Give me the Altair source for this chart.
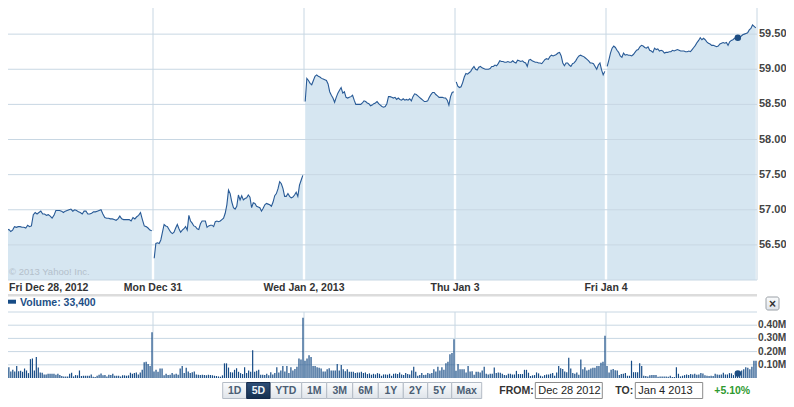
import altair as alt
import pandas as pd

# ---------------- data ----------------
day_labels = ["Fri Dec 28, 2012", "Mon Dec 31", "Wed Jan 2, 2013", "Thu Jan 3", "Fri Jan 4"]

price_dec28 = [56.72, 56.67, 56.71, 56.72, 56.69, 56.71, 56.76, 56.75, 56.76, 56.76, 56.75, 56.75, 56.74, 56.78,
               56.76, 56.77, 56.93, 56.96, 56.94, 56.96, 56.98, 56.94, 56.94, 56.92, 56.93, 56.91, 56.88, 56.92,
               56.99, 56.99, 56.99, 56.98, 56.96, 56.98, 56.99, 57.00, 57.01, 56.98, 57.00, 56.99, 56.97, 56.96,
               56.94, 56.98, 56.98, 56.94, 56.94, 56.95, 56.97, 56.97, 56.98, 56.99, 57.00, 56.94, 56.89, 56.88,
               56.88, 56.87, 56.87, 56.86, 56.85, 56.87, 56.91, 56.87, 56.86, 56.86, 56.86, 56.86, 56.84, 56.89,
               56.87, 56.90, 56.92, 56.96, 56.86, 56.77, 56.76, 56.74, 56.71, 56.70]
price_dec31 = [56.31, 56.52, 56.53, 56.52, 56.57, 56.68, 56.79, 56.77, 56.76, 56.72, 56.68, 56.66, 56.68, 56.74,
               56.79, 56.73, 56.68, 56.71, 56.73, 56.76, 56.71, 56.92, 56.84, 56.81, 56.77, 56.76, 56.73, 56.72,
               56.80, 56.84, 56.84, 56.84, 56.75, 56.77, 56.78, 56.78, 56.76, 56.83, 56.84, 56.83, 56.84, 56.86,
               56.88, 56.95, 57.07, 57.28, 57.23, 57.11, 57.03, 57.01, 57.05, 57.21, 57.14, 57.20, 57.14, 57.16,
               57.17, 57.21, 57.18, 57.03, 57.10, 57.09, 57.05, 57.04, 57.03, 56.98, 57.02, 57.07, 57.09, 57.08,
               57.07, 57.05, 57.11, 57.20, 57.23, 57.30, 57.40, 57.37, 57.30, 57.19, 57.19, 57.23, 57.19, 57.17,
               57.18, 57.21, 57.25, 57.19, 57.35, 57.42, 57.49]
price_jan2 = [58.54, 58.87, 58.84, 58.80, 58.78, 58.84, 58.90, 58.92, 58.90, 58.89, 58.87, 58.86, 58.85, 58.84,
              58.79, 58.68, 58.63, 58.59, 58.53, 58.60, 58.66, 58.70, 58.74, 58.66, 58.68, 58.60, 58.59, 58.60,
              58.61, 58.63, 58.56, 58.50, 58.50, 58.50, 58.50, 58.52, 58.55, 58.54, 58.52, 58.51, 58.48, 58.49,
              58.51, 58.52, 58.54, 58.51, 58.49, 58.47, 58.46, 58.47, 58.51, 58.61, 58.61, 58.60, 58.59, 58.60,
              58.57, 58.59, 58.57, 58.56, 58.58, 58.56, 58.57, 58.56, 58.58, 58.55, 58.61, 58.65, 58.64, 58.62,
              58.60, 58.58, 58.56, 58.54, 58.54, 58.55, 58.60, 58.64, 58.67, 58.67, 58.64, 58.62, 58.60, 58.60,
              58.60, 58.59, 58.59, 58.56, 58.49, 58.61, 58.67, 58.68]
price_jan3 = [58.82, 58.76, 58.74, 58.75, 58.81, 58.89, 58.94, 58.93, 58.95, 58.97, 59.01, 59.04, 59.00, 58.99,
              59.03, 59.04, 59.02, 59.01, 59.00, 59.00, 59.00, 59.01, 59.04, 59.04, 59.06, 59.05, 59.08, 59.12,
              59.11, 59.11, 59.10, 59.10, 59.11, 59.10, 59.10, 59.12, 59.10, 59.09, 59.13, 59.12, 59.11, 59.12,
              59.10, 59.09, 59.04, 59.13, 59.14, 59.12, 59.11, 59.10, 59.10, 59.09, 59.09, 59.08, 59.11, 59.14,
              59.15, 59.14, 59.18, 59.20, 59.19, 59.20, 59.21, 59.23, 59.24, 59.19, 59.09, 59.05, 59.09, 59.09,
              59.06, 59.04, 59.08, 59.09, 59.12, 59.16, 59.19, 59.20, 59.19, 59.18, 59.16, 59.14, 59.12, 59.09,
              59.09, 59.08, 59.04, 59.00, 59.06, 59.09, 58.99, 58.92, 58.97]
price_jan4 = [59.04, 59.13, 59.23, 59.30, 59.33, 59.31, 59.27, 59.24, 59.19, 59.17, 59.23, 59.20, 59.21, 59.20,
              59.20, 59.19, 59.21, 59.24, 59.27, 59.28, 59.32, 59.34, 59.33, 59.31, 59.30, 59.32, 59.27, 59.26,
              59.24, 59.30, 59.28, 59.29, 59.26, 59.27, 59.26, 59.23, 59.24, 59.24, 59.25, 59.25, 59.27, 59.26,
              59.27, 59.28, 59.27, 59.26, 59.26, 59.26, 59.25, 59.25, 59.26, 59.25, 59.28, 59.31, 59.34, 59.38,
              59.41, 59.45, 59.42, 59.44, 59.42, 59.39, 59.37, 59.36, 59.34, 59.34, 59.33, 59.32, 59.33, 59.36,
              59.37, 59.38, 59.37, 59.38, 59.34, 59.39, 59.41, 59.42, 59.44, 59.45, 59.45, 59.46, 59.47, 59.49,
              59.50, 59.51, 59.52, 59.56, 59.58, 59.63, 59.61, 59.59]

# volume per 5-minute bar, thousands of shares
vol_dec28 = [91, 42, 74, 81, 49, 62, 49, 91, 52, 54, 47, 72, 57, 37, 143, 148, 57, 160, 79, 42, 40, 27, 27, 32, 32,
             32, 32, 25, 32, 22, 15, 12, 12, 12, 32, 40, 12, 22, 20, 57, 15, 17, 17, 17, 17, 27, 10, 7, 17, 25, 35,
             20, 22, 12, 25, 22, 32, 17, 17, 17, 12, 20, 20, 17, 20, 40, 32, 37, 42, 27, 42, 62, 119, 123, 106, 91, 346]
vol_dec31 = [49, 62, 47, 72, 72, 20, 32, 22, 25, 37, 27, 32, 25, 72, 91, 37, 77, 49, 37, 44, 49, 27, 25, 22, 25, 22,
             20, 25, 22, 20, 17, 15, 12, 10, 20, 111, 111, 79, 44, 42, 62, 74, 47, 37, 30, 81, 37, 57, 47, 210, 47,
             54, 62, 25, 25, 22, 32, 20, 44, 27, 37, 81, 42, 57, 91, 49, 91, 37, 81, 57, 69, 86, 148, 141, 457]
vol_jan2 = [131, 148, 173, 160, 91, 91, 81, 77, 72, 49, 49, 67, 74, 57, 57, 57, 106, 57, 99, 67, 52, 67, 47, 47, 47,
            37, 42, 42, 47, 37, 42, 30, 35, 25, 32, 27, 37, 32, 17, 27, 27, 25, 32, 17, 32, 35, 30, 42, 27, 22, 37,
            30, 27, 57, 86, 47, 17, 22, 37, 22, 25, 37, 32, 37, 67, 49, 86, 57, 81, 62, 111, 123, 180, 190, 294]
vol_jan3 = [54, 106, 67, 67, 67, 42, 91, 49, 52, 25, 47, 47, 42, 57, 86, 32, 27, 32, 32, 79, 37, 42, 40, 32, 22, 20,
            32, 32, 27, 27, 54, 30, 30, 30, 62, 62, 40, 15, 20, 22, 42, 35, 17, 12, 22, 27, 27, 32, 37, 17, 42, 91,
            74, 69, 49, 44, 153, 72, 37, 32, 42, 25, 141, 67, 81, 57, 62, 72, 77, 77, 91, 91, 116, 123, 321]
vol_jan4 = [91, 42, 62, 69, 59, 57, 22, 30, 32, 37, 17, 17, 131, 44, 44, 44, 111, 91, 17, 15, 12, 20, 22, 22, 22, 10,
            12, 12, 12, 12, 10, 17, 7, 7, 81, 32, 12, 17, 22, 27, 22, 30, 27, 32, 25, 27, 37, 35, 20, 17, 15, 17, 15,
            32, 27, 25, 27, 40, 27, 27, 37, 35, 22, 47, 42, 49, 57, 67, 81, 77, 67, 86, 131, 131]

price_ticks = [56.5, 57.0, 57.5, 58.0, 58.5, 59.0, 59.5]
price_base = 56.0
price_top = 60.0
vol_ticks = [100000, 200000, 300000, 400000]
vol_tick_labels = ["0.10M", "0.20M", "0.30M", "0.40M"]
vol_top = 500000

hover_day = 4
hover_index = 80
hover_volume = 33400
legend_text = "Volume: 33,400"
copyright_text = "\u00a9 2013 Yahoo! Inc."
range_buttons = ["1D", "5D", "YTD", "1M", "3M", "6M", "1Y", "2Y", "5Y", "Max"]
selected_button = "5D"
from_date = "Dec 28 2012"
to_date = "Jan 4 2013"
change_text = "+5.10%"

# ---------------- styling / layout (pixels) ----------------
FONT = "Liberation Sans"
GRID = "#c8d7e3"
AREA = "#d6e6f1"
LINE = "#285a96"
VOLC = "#174c86"
LABEL = "#444444"
W, H = 778, 391

X_SCALE = alt.Scale(domain=[0, 5], range=[-6, 749], nice=False, zero=False)
P_SCALE = alt.Scale(domain=[price_base, price_top], range=[272, -9], nice=False, zero=False)
V_SCALE = alt.Scale(domain=[0, vol_top], range=[370, 304], nice=False, zero=False)

DAY_LABEL_Y = 279.5
SEP_Y = (286, 288.5)
LEGEND_Y = 295
CLOSE_Y = (289, 302)
button_edges = [214.7, 238.7, 262, 293.7, 318.7, 344.7, 370.3, 395.3, 419.7, 443.7, 473.7]
BTN_Y = (374.5, 390.5)
BTN_TEXT_Y = 382.5

# ---------------- frames ----------------
days = [price_dec28, price_dec31, price_jan2, price_jan3, price_jan4]
vols = [vol_dec28, vol_dec31, vol_jan2, vol_jan3, vol_jan4]

rows = []
for d, series in enumerate(days):
    n = len(series)
    for i, p in enumerate(series):
        rows.append({"t": d + 0.008 + 0.984 * i / (n - 1), "price": p, "day": d, "base": price_base})
price_df = pd.DataFrame(rows)

vrows = []
for d, series in enumerate(vols):
    n = len(series)
    for i, v in enumerate(series):
        vrows.append({"t": d + (i + 0.5) / n, "volume": v * 1000, "zero": 0})
vol_df = pd.DataFrame(vrows)

hs = days[hover_day]
hover_t = hover_day + 0.008 + 0.984 * hover_index / (len(hs) - 1)
hover_df = pd.DataFrame([{"t": hover_t, "price": hs[hover_index], "volume": hover_volume}])

vg = [{"t": d, "lo": max(days[d - 1][-1], days[d][0]), "hi": price_top} for d in range(1, 5)]
vg.append({"t": 5, "lo": price_base, "hi": price_top})
vgrid_df = pd.DataFrame(vg)

hgrid_df = pd.DataFrame({"price": [price_base] + price_ticks, "t0": 0, "t1": 5})
plabel_df = pd.DataFrame({"price": price_ticks, "label": [f"{p:.2f}" for p in price_ticks], "edge": 5})
day_df = pd.DataFrame({"t": list(range(5)), "label": day_labels})

vvgrid_df = pd.DataFrame({"t": [1, 2, 3, 4], "lo": 0, "hi": vol_top})
vhgrid_df = pd.DataFrame({"volume": vol_ticks + [vol_top], "t0": 0, "t1": 5})
vlabel_df = pd.DataFrame({"volume": vol_ticks, "label": vol_tick_labels, "edge": 5})

btn_df = pd.DataFrame({"label": range_buttons, "x0": button_edges[:-1], "x1": button_edges[1:]})
btn_df["xc"] = (btn_df["x0"] + btn_df["x1"]) / 2
btn_df["sel"] = btn_df["label"] == selected_button


def X(f="t"):
    return alt.X(f, type="quantitative", scale=X_SCALE, axis=None)


def PY(f="price"):
    return alt.Y(f, type="quantitative", scale=P_SCALE, axis=None)


def VY(f="volume"):
    return alt.Y(f, type="quantitative", scale=V_SCALE, axis=None)


def PX(f):
    return alt.X(f, type="quantitative", scale=None, axis=None)


grad = alt.LinearGradient(gradient="linear", x1=0, x2=0, y1=0, y2=1,
                          stops=[alt.GradientStop(color="#fbfcfd", offset=0),
                                 alt.GradientStop(color="#dfe4ea", offset=1)])
sel_grad = alt.LinearGradient(gradient="linear", x1=0, x2=0, y1=0, y2=1,
                              stops=[alt.GradientStop(color="#2e4e78", offset=0),
                                     alt.GradientStop(color="#15304f", offset=1)])

layers = []

# price panel
layers.append(alt.Chart(vgrid_df).mark_rule(color=GRID, strokeWidth=1).encode(
    x=X(), y=PY("lo"), y2="hi"))
layers.append(alt.Chart(price_df).mark_area(color=AREA, opacity=1).encode(
    x=X(), y=PY(), y2="base", detail="day:N"))
layers.append(alt.Chart(hgrid_df).mark_rule(color=GRID, strokeWidth=1).encode(
    x=X("t0"), x2="t1", y=PY()))
layers.append(alt.Chart(price_df).mark_line(color=LINE, strokeWidth=1.1).encode(
    x=X(), y=PY(), detail="day:N"))
layers.append(alt.Chart(hover_df).mark_circle(color="#1d4d83", size=42, opacity=1).encode(
    x=X(), y=PY()))
layers.append(alt.Chart(plabel_df).mark_text(align="left", baseline="middle", dx=2, font=FONT,
                                             fontSize=11, fontWeight="bold", color=LABEL).encode(
    x=X("edge"), y=PY(), text="label"))
layers.append(alt.Chart(pd.DataFrame({"label": [copyright_text]})).mark_text(
    align="left", baseline="middle", font=FONT, fontSize=9.5, color="#b4c0cb").encode(
    x=alt.value(1), y=alt.value(264), text="label"))

# day labels
layers.append(alt.Chart(day_df[day_df["t"] == 0]).mark_text(
    align="left", baseline="middle", dx=7, font=FONT, fontSize=10.5, fontWeight="bold", color="#333333").encode(
    x=X(), y=alt.value(DAY_LABEL_Y), text="label"))
layers.append(alt.Chart(day_df[day_df["t"] > 0]).mark_text(
    align="center", baseline="middle", font=FONT, fontSize=10.5, fontWeight="bold", color="#333333").encode(
    x=X(), y=alt.value(DAY_LABEL_Y), text="label"))

# separator bar
layers.append(alt.Chart(pd.DataFrame({"t0": [0], "t1": [5]})).mark_rect(color="#dcdcdc").encode(
    x=X("t0"), x2="t1", y=alt.value(SEP_Y[0]), y2=alt.value(SEP_Y[1])))

# volume legend
layers.append(alt.Chart(pd.DataFrame({"a": [0]})).mark_rect(color=VOLC).encode(
    x=alt.value(-2), x2=alt.value(8), y=alt.value(LEGEND_Y - 3.3), y2=alt.value(LEGEND_Y + 0.7)))
layers.append(alt.Chart(pd.DataFrame({"label": [legend_text]})).mark_text(
    align="left", baseline="middle", font=FONT, fontSize=10.5, fontWeight="bold", color="#1d4f86").encode(
    x=alt.value(12), y=alt.value(LEGEND_Y), text="label"))

# close box
layers.append(alt.Chart(pd.DataFrame({"a": [0]})).mark_rect(
    fill=grad, stroke="#9aa0a6", strokeWidth=1, cornerRadius=2).encode(
    x=alt.value(758), x2=alt.value(771), y=alt.value(CLOSE_Y[0]), y2=alt.value(CLOSE_Y[1])))
layers.append(alt.Chart(pd.DataFrame({"label": ["\u00d7"]})).mark_text(
    align="center", baseline="middle", font=FONT, fontSize=12, fontWeight="bold", color="#333333").encode(
    x=alt.value(764.5), y=alt.value((CLOSE_Y[0] + CLOSE_Y[1]) / 2), text="label"))

# volume panel
layers.append(alt.Chart(vvgrid_df).mark_rule(color=GRID, strokeWidth=1).encode(
    x=X(), y=VY("lo"), y2="hi"))
layers.append(alt.Chart(vhgrid_df).mark_rule(color=GRID, strokeWidth=1).encode(
    x=X("t0"), x2="t1", y=VY()))
layers.append(alt.Chart(vol_df).mark_rule(color=VOLC, strokeWidth=1.2).encode(
    x=X(), y=VY(), y2="zero"))
layers.append(alt.Chart(hover_df).mark_circle(color="#1d4d83", size=42, opacity=1).encode(
    x=X(), y=VY()))
layers.append(alt.Chart(vlabel_df).mark_text(align="left", baseline="middle", dx=1, font=FONT,
                                             fontSize=10.2, fontWeight="bold", color=LABEL).encode(
    x=X("edge"), y=VY(), text="label"))

# range buttons
layers.append(alt.Chart(btn_df[~btn_df["sel"]]).mark_rect(fill=grad, stroke="#b4bcc6", strokeWidth=1).encode(
    x=PX("x0"), x2="x1", y=alt.value(BTN_Y[0]), y2=alt.value(BTN_Y[1])))
layers.append(alt.Chart(btn_df[btn_df["sel"]]).mark_rect(fill=sel_grad, stroke="#13294a", strokeWidth=1).encode(
    x=PX("x0"), x2="x1", y=alt.value(BTN_Y[0]), y2=alt.value(BTN_Y[1])))
layers.append(alt.Chart(btn_df[~btn_df["sel"]]).mark_text(
    align="center", baseline="middle", font=FONT, fontSize=10.5, fontWeight="bold", color="#4b5e74").encode(
    x=PX("xc"), y=alt.value(BTN_TEXT_Y), text="label"))
layers.append(alt.Chart(btn_df[btn_df["sel"]]).mark_text(
    align="center", baseline="middle", font=FONT, fontSize=10.5, fontWeight="bold", color="#eef3f8").encode(
    x=PX("xc"), y=alt.value(BTN_TEXT_Y), text="label"))

# date inputs and change
ctrl_text = pd.DataFrame({"label": ["FROM:", "TO:"], "x": [491.3, 607.3]})
layers.append(alt.Chart(ctrl_text).mark_text(
    align="left", baseline="middle", font=FONT, fontSize=10.5, fontWeight="bold", color="#333333").encode(
    x=PX("x"), y=alt.value(BTN_TEXT_Y), text="label"))
box_df = pd.DataFrame({"label": [from_date, to_date], "x0": [527.3, 627.3], "x1": [594.3, 694.7]})
layers.append(alt.Chart(box_df).mark_rect(fill="white", stroke="#8c8c8c", strokeWidth=1).encode(
    x=PX("x0"), x2="x1", y=alt.value(BTN_Y[0]), y2=alt.value(BTN_Y[1])))
layers.append(alt.Chart(box_df).mark_text(
    align="left", baseline="middle", dx=3, font=FONT, fontSize=11, color="#222222").encode(
    x=PX("x0"), y=alt.value(BTN_TEXT_Y), text="label"))
layers.append(alt.Chart(pd.DataFrame({"label": [change_text]})).mark_text(
    align="left", baseline="middle", font=FONT, fontSize=10.5, fontWeight="bold", color="#2f9a2f").encode(
    x=alt.value(706.3), y=alt.value(BTN_TEXT_Y), text="label"))

chart = alt.layer(*layers).resolve_scale(x="independent", y="independent").properties(
    width=W, height=H, padding=0, autosize=alt.AutoSizeParams(type="none")
).configure_view(strokeWidth=0)

chart.save("out.html", embed_options={"renderer": "svg", "actions": False})
